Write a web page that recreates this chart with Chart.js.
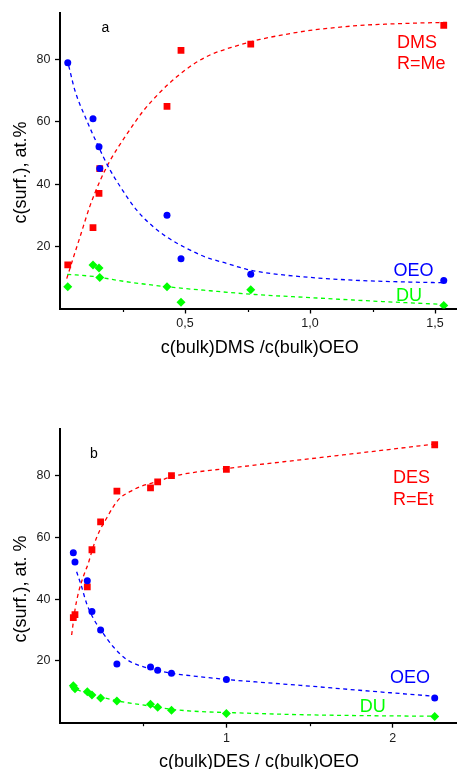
<!DOCTYPE html>
<html><head><meta charset="utf-8">
<script src="https://cdn.jsdelivr.net/npm/chart.js@4/dist/chart.umd.min.js"></script>
<style>
html,body{margin:0;padding:0;background:#fff;width:457px;height:769px;overflow:hidden}
.box{position:absolute;left:0;width:457px}
#boxA{top:0;height:385px}
#boxB{top:385px;height:384px}
canvas{display:block}
</style></head><body>
<div class="box" id="boxA"><canvas id="cA" width="457" height="385"></canvas></div>
<div class="box" id="boxB"><canvas id="cB" width="457" height="384"></canvas></div>
<script>
// ---------- Panel a : DMS ----------
const xA   = [0.031, 0.132, 0.156, 0.159, 0.428, 0.484, 0.763, 1.535];
const dmsA = [14, 26, 37, 45, 65, 83, 85, 91];
const oeoA = [79, 61, 52, 45, 30, 16, 11, 9];
const duA  = [7, 14, 13, 10, 7, 2, 6, 1];

const fitDmsAx = [0.027, 0.05, 0.08, 0.12, 0.16, 0.2, 0.267, 0.333, 0.4, 0.467, 0.533, 0.6, 0.7, 0.8, 0.9, 1.0, 1.1, 1.2, 1.3, 1.4, 1.55];
const fitDmsAy = [9.6, 15.5, 23, 33, 41, 47.5, 56, 63.5, 69.5, 74.5, 78.5, 81.5, 84.3, 86.5, 88.1, 89.4, 90.3, 91, 91.4, 91.7, 92];
const fitOeoAx = [0.035, 0.06, 0.104, 0.153, 0.197, 0.24, 0.307, 0.373, 0.427, 0.507, 0.587, 0.667, 0.747, 0.85, 1.0, 1.2, 1.4, 1.53];
const fitOeoAy = [78, 70, 61, 52.2, 45, 39.3, 31.6, 26.3, 23, 19.3, 16.4, 14.5, 12.6, 11.2, 10, 9, 8.5, 8.3];
const fitDuAx  = [0.029, 0.133, 0.267, 0.427, 0.6, 0.78, 1.0, 1.25, 1.535];
const fitDuAy  = [11, 10.3, 8.6, 7, 5.7, 4.5, 3.5, 2.4, 1.3];

const xTicksA      = [0.5, 1.0, 1.5];
const xTickLabelsA = ['0,5', '1,0', '1,5'];
const xMinorA      = [0.25, 0.75, 1.25];

// ---------- Panel b : DES ----------
const xB   = [0.08, 0.09, 0.164, 0.192, 0.244, 0.342, 0.544, 0.587, 0.67, 1.0, 2.252];
const desB = [34, 35, 44, 56, 65, 75, 76, 78, 80, 82, 90];
const oeoB = [55, 52, 46, 36, 30, 19, 18, 17, 16, 14, 8];
const duB  = [12, 11, 10, 9, 8, 7, 6, 5, 4, 3, 2];

const fitDesBx = [0.07, 0.09, 0.11, 0.14, 0.17, 0.2, 0.24, 0.28, 0.32, 0.36, 0.42, 0.48, 0.58, 0.68, 0.8, 1.0, 1.2, 1.444, 1.7, 2.0, 2.244];
const fitDesBy = [28.4, 36.5, 41.9, 47.3, 51.6, 57, 62.4, 66.2, 69.9, 72.7, 74.8, 76.4, 78, 79.8, 81, 82.3, 83.6, 85.1, 86.7, 88.6, 90.2];
const fitOeoBx = [0.1, 0.13, 0.16, 0.2, 0.26, 0.32, 0.4, 0.52, 0.66, 0.82, 1.0, 1.2, 1.444, 1.8, 2.244];
const fitOeoBy = [48.9, 44, 38.6, 33.8, 28.9, 24.6, 20.5, 17.8, 16.1, 15, 14, 13.1, 12.1, 10.5, 8.6];
const fitDuBx  = [0.06, 0.16, 0.24, 0.34, 0.54, 0.66, 0.84, 1.0, 1.444, 1.8, 2.244];
const fitDuBy  = [11.6, 9.5, 8.4, 7.1, 5.4, 4.4, 3.6, 3.3, 2.6, 2.3, 2.1];

const xTicksB      = [1, 2];
const xTickLabelsB = ['1', '2'];
const xMinorB      = [0.5, 1.5];

const yTicks      = [20, 40, 60, 80];
const yTickLabels = ['20', '40', '60', '80'];

// ---------- helpers ----------
const FONT = '"Liberation Sans", Arial, Helvetica, sans-serif';
const RED = '#ff0000', BLUE = '#0000ff', GREEN = '#00ff00';
const pts = (xs, ys) => xs.map((x, i) => ({x: x, y: ys[i]}));

function markerSet(label, xs, ys, color, style, radius, order) {
  return { label, data: pts(xs, ys), backgroundColor: color, borderColor: color, borderWidth: 0,
    pointStyle: style, pointRadius: radius, pointHoverRadius: radius, showLine: false, order };
}
function fitSet(label, xs, ys, color, order) {
  return { label, data: pts(xs, ys), borderColor: color, backgroundColor: color, borderWidth: 1.3,
    borderDash: [4, 3.5], pointRadius: 0, showLine: true, cubicInterpolationMode: 'monotone', fill: false, order };
}

const decor = {
  id: 'decor',
  afterDraw(chart, args, o) {
    const ctx = chart.ctx, xs = chart.scales.x, ca = chart.chartArea;
    ctx.save();
    ctx.strokeStyle = '#000'; ctx.lineWidth = 1.2;
    o.minorX.forEach(v => {
      const px = Math.round(xs.getPixelForValue(v)) + 0.5;
      ctx.beginPath(); ctx.moveTo(px, ca.bottom); ctx.lineTo(px, ca.bottom + 3.5); ctx.stroke();
    });
    ctx.textAlign = 'left'; ctx.textBaseline = 'alphabetic';
    o.texts.forEach(t => {
      ctx.font = t.size + 'px ' + FONT; ctx.fillStyle = t.color; ctx.fillText(t.text, t.x, t.y);
    });
    ctx.fillStyle = '#000'; ctx.font = '18px ' + FONT; ctx.textAlign = 'center'; ctx.textBaseline = 'middle';
    ctx.fillText(o.xTitle.text, o.xTitle.x, o.xTitle.y);
    ctx.translate(o.yTitle.x, o.yTitle.y); ctx.rotate(-Math.PI / 2);
    ctx.fillText(o.yTitle.text, 0, 0);
    ctx.restore();
  }
};

function makeChart(canvas, cfg) {
  return new Chart(canvas, {
    type: 'scatter',
    data: { datasets: cfg.datasets },
    plugins: [decor],
    options: {
      responsive: false, animation: false, devicePixelRatio: 1,
      layout: { autoPadding: false, padding: { top: cfg.top, left: 0, right: 0, bottom: 0 } },
      plugins: { legend: { display: false }, tooltip: { enabled: false }, decor: cfg.decor },
      scales: {
        x: {
          type: 'linear', min: 0, max: cfg.xMax,
          afterFit(s) { s.height = cfg.xAxisH; s.paddingLeft = 0; s.paddingRight = 0; },
          afterBuildTicks(s) { s.ticks = cfg.xTicks.map(v => ({value: v})); },
          ticks: { autoSkip: false, maxRotation: 0, padding: 3, color: '#1a1a1a',
                   font: { family: FONT, size: 12.5 },
                   callback: (v, i) => cfg.xTickLabels[i] },
          grid: { display: true, drawOnChartArea: false, drawTicks: true, tickLength: 5, tickColor: '#000', tickWidth: 1.3 },
          border: { display: true, color: '#000', width: 2 },
          title: { display: false }
        },
        y: {
          type: 'linear', min: 0, max: 95,
          afterFit(s) { s.width = 60; },
          afterBuildTicks(s) { s.ticks = yTicks.map(v => ({value: v})); },
          ticks: { autoSkip: false, padding: 4.5, color: '#1a1a1a',
                   font: { family: FONT, size: 12.5 },
                   callback: (v, i) => yTickLabels[i] },
          grid: { display: true, drawOnChartArea: false, drawTicks: true, tickLength: 5, tickColor: '#000', tickWidth: 1.3 },
          border: { display: true, color: '#000', width: 2 },
          title: { display: false }
        }
      }
    }
  });
}

makeChart(document.getElementById('cA'), {
  top: 13, xAxisH: 385 - 308.5, xMax: 1.588,
  xTicks: xTicksA, xTickLabels: xTickLabelsA,
  datasets: [
    markerSet('DU', xA, duA, GREEN, 'rectRot', 4.5, 0),
    markerSet('OEO', xA, oeoA, BLUE, 'circle', 3.5, 1),
    markerSet('DMS', xA, dmsA, RED, 'rect', 4.8, 2),
    fitSet('DU fit', fitDuAx, fitDuAy, GREEN, 3),
    fitSet('OEO fit', fitOeoAx, fitOeoAy, BLUE, 4),
    fitSet('DMS fit', fitDmsAx, fitDmsAy, RED, 5)
  ],
  decor: {
    minorX: xMinorA,
    texts: [
      {text: 'a', x: 101.5, y: 32.3, color: '#000', size: 14},
      {text: 'DMS', x: 397, y: 48.3, color: RED, size: 18},
      {text: 'R=Me', x: 397, y: 69.3, color: RED, size: 18},
      {text: 'OEO', x: 393.4, y: 276, color: BLUE, size: 18},
      {text: 'DU', x: 396, y: 300.7, color: GREEN, size: 18}
    ],
    xTitle: {text: 'c(bulk)DMS /c(bulk)OEO', x: 259.7, y: 348},
    yTitle: {text: 'c(surf.), at.%', x: 20.7, y: 172.5}
  }
});

makeChart(document.getElementById('cB'), {
  top: 44.3, xAxisH: 384 - 337.7, xMax: 2.386,
  xTicks: xTicksB, xTickLabels: xTickLabelsB,
  datasets: [
    markerSet('DU', xB, duB, GREEN, 'rectRot', 4.5, 0),
    markerSet('OEO', xB, oeoB, BLUE, 'circle', 3.5, 1),
    markerSet('DES', xB, desB, RED, 'rect', 4.8, 2),
    fitSet('DU fit', fitDuBx, fitDuBy, GREEN, 3),
    fitSet('OEO fit', fitOeoBx, fitOeoBy, BLUE, 4),
    fitSet('DES fit', fitDesBx, fitDesBy, RED, 5)
  ],
  decor: {
    minorX: xMinorB,
    texts: [
      {text: 'b', x: 90, y: 73.3, color: '#000', size: 14},
      {text: 'DES', x: 393, y: 98.3, color: RED, size: 18},
      {text: 'R=Et', x: 393, y: 120, color: RED, size: 18},
      {text: 'OEO', x: 390, y: 298.3, color: BLUE, size: 18},
      {text: 'DU', x: 359.7, y: 326.7, color: GREEN, size: 18}
    ],
    xTitle: {text: 'c(bulk)DES / c(bulk)OEO', x: 259, y: 377},
    yTitle: {text: 'c(surf.), at. %', x: 20.7, y: 204}
  }
});
</script>
</body></html>
